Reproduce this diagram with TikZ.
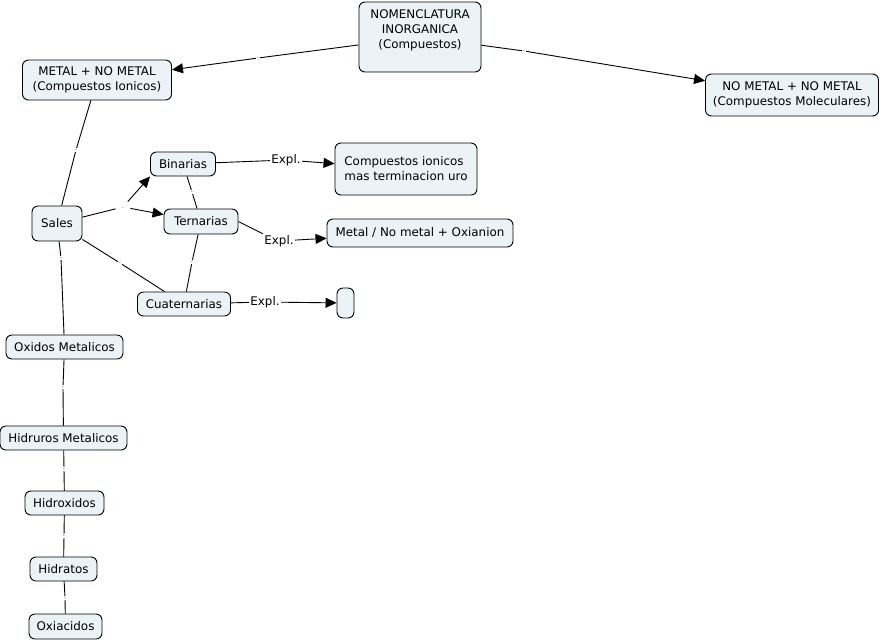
\documentclass[tikz,border=0pt]{standalone}
\usepackage{fontspec}
\setmainfont{DejaVu Sans}
\usepackage{tikz}
\usetikzlibrary{arrows.meta}
\definecolor{fondo}{HTML}{EBF3F6}

\begin{document}
\begin{tikzpicture}[x=1pt,y=-1pt,line width=0.9pt,
    caja/.style={draw, rounded corners=6pt, fill=fondo, inner sep=2pt, align=center, font=\fontsize{11.9}{15}\selectfont},
    enlace/.style={inner sep=0.6pt, text height=2pt, text depth=0pt, text=black!70, font=\fontsize{6}{7}\selectfont},
    expl/.style={inner sep=1pt, font=\fontsize{11.9}{14}\selectfont},
    flecha/.style={-{Triangle[length=11pt,width=10pt]}}]
    \useasboundingbox (0,0) rectangle (883,641);

    \node[caja, minimum width=122, minimum height=70] (nom) at (420,37) {NOMENCLATURA\\INORGANICA\\(Compuestos)\\\mbox{}};
    \node[caja, minimum width=149, minimum height=40] (metal) at (97,80) {METAL + NO METAL\\(Compuestos Ionicos)};
    \node[caja, minimum width=173, minimum height=42] (nometal) at (792,95) {NO METAL + NO METAL\\(Compuestos Moleculares)};
    \node[caja, minimum width=50, minimum height=35] (sales) at (57,223.5) {Sales};
    \node[caja, minimum width=65, minimum height=24] (bin) at (183,164) {Binarias};
    \node[caja, minimum width=74, minimum height=25] (ter) at (201,221.5) {Ternarias};
    \node[caja, minimum width=93, minimum height=24] (cua) at (184,304) {Cuaternarias};
    \node[caja, minimum width=142, minimum height=52, align=left] (ionicos) at (406,169) {Compuestos ionicos\\mas terminacion uro};
    \node[caja, minimum width=186, minimum height=28] (oxianion) at (420,233) {Metal / No metal + Oxianion};
    \node[caja, minimum width=17, minimum height=30, inner sep=0pt] (vacio) at (345.5,303) {};
    \node[caja, minimum width=117, minimum height=24] (oxidos) at (64.5,347) {Oxidos Metalicos};
    \node[caja, minimum width=127, minimum height=24] (hidruros) at (63.5,438) {Hidruros Metalicos};
    \node[caja, minimum width=79, minimum height=24] (hidroxidos) at (64.5,503) {Hidroxidos};
    \node[caja, minimum width=67, minimum height=24] (hidratos) at (63.5,569) {Hidratos};
    \node[caja, minimum width=73, minimum height=25] (oxiacidos) at (65.5,626.5) {Oxiacidos};

    \node[enlace] (l1) at (258,58) {-};
    \node[enlace] (l2) at (524,51) {-};
    \node[enlace] (l3) at (76,150) {-};
    \node[enlace, minimum width=14, minimum height=10] (l4) at (123,207) {.};
    \node[enlace] (l5) at (120,263) {-};
    \node[enlace] (l6) at (192,192) {-};
    \node[enlace] (l7) at (192,262) {-};
    \node[enlace] (l8) at (61,258) {-};
    \node[enlace] (l9) at (63,387) {-};
    \node[enlace] (l10) at (64,469) {-};
    \node[enlace] (l11) at (64,536) {-};
    \node[enlace] (l12) at (65,598) {-};
    \node[expl] (e1) at (286,160) {Expl.};
    \node[expl] (e2) at (279,241) {Expl.};
    \node[expl] (e3) at (265,302) {Expl.};

    \draw (nom) -- (l1);
    \draw[flecha] (l1) -- (metal);
    \draw (nom) -- (l2);
    \draw[flecha] (l2) -- (nometal);
    \draw (metal) -- (l3) -- (sales);
    \draw (sales) -- (l4);
    \draw[flecha] (l4) -- (bin.south west);
    \draw[flecha] (l4) -- (ter);
    \draw (sales) -- (l5) -- (cua);
    \draw (bin) -- (l6) -- (ter);
    \draw (ter) -- (l7) -- (cua);
    \draw (bin) -- (e1);
    \draw[flecha] (e1) -- (ionicos);
    \draw (ter.east) -- (e2.north west);
    \draw[flecha] (e2) -- (oxianion);
    \draw (cua) -- (e3);
    \draw[flecha] (e3) -- (vacio);
    \draw (sales) -- (l8) -- (oxidos);
    \draw (oxidos) -- (l9) -- (hidruros);
    \draw (hidruros) -- (l10) -- (hidroxidos);
    \draw (hidroxidos) -- (l11) -- (hidratos);
    \draw (hidratos) -- (l12) -- (oxiacidos);
\end{tikzpicture}
\end{document}
